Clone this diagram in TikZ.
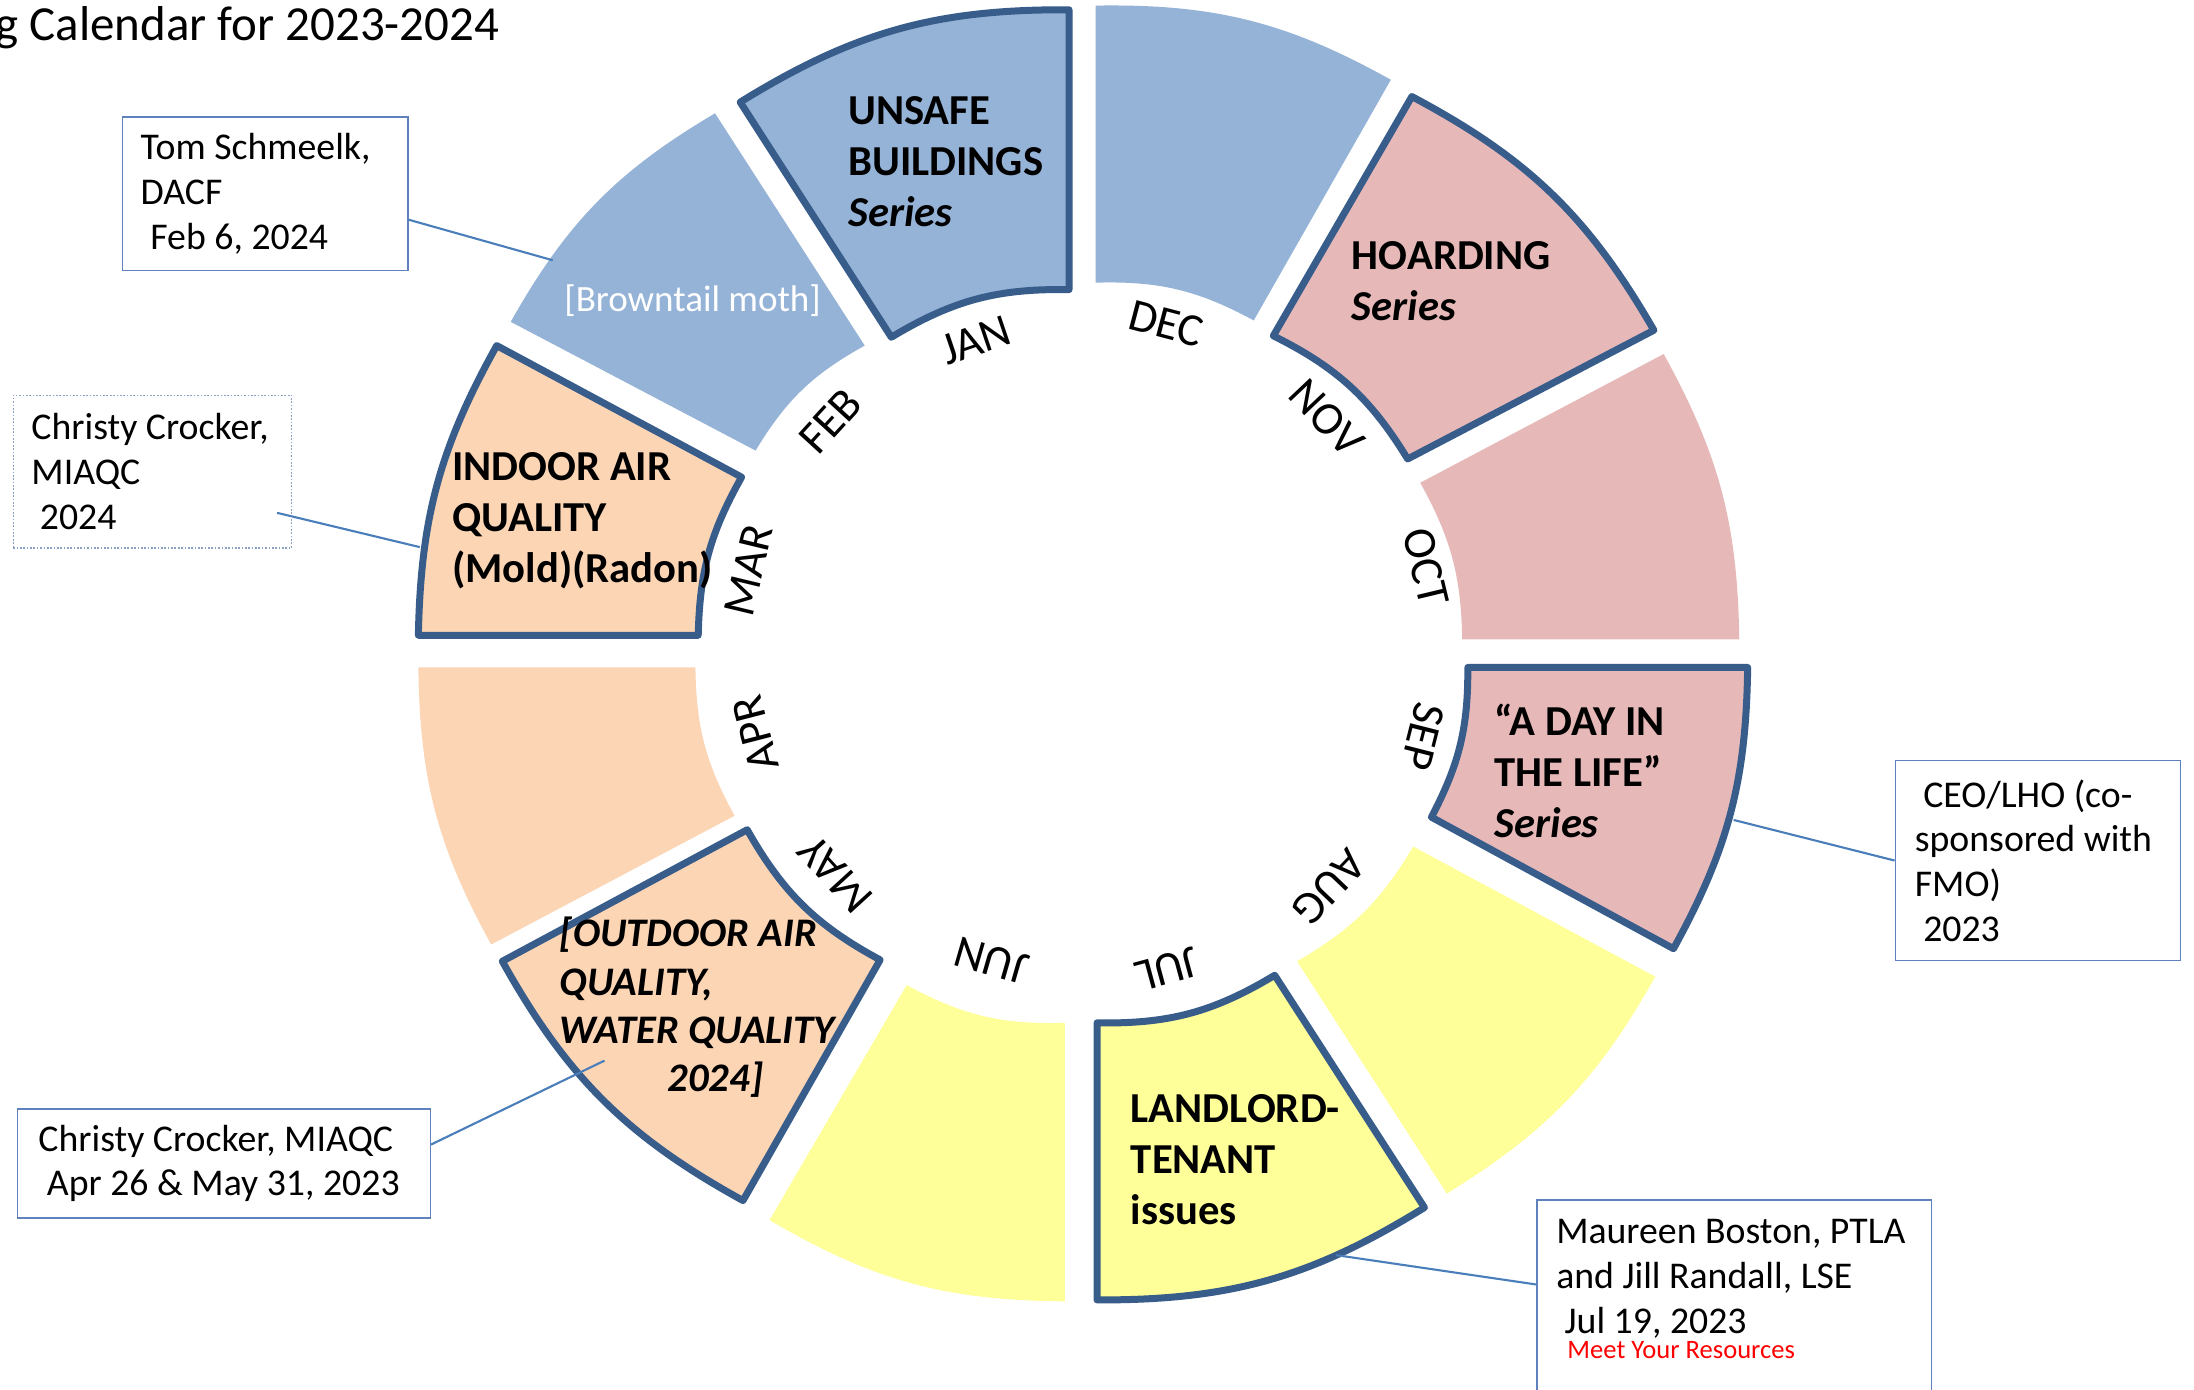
\documentclass[tikz,border=0pt]{standalone}
\usepackage{fontspec}
\setmainfont{Carlito}
\usetikzlibrary{calc}
\definecolor{segblue}{RGB}{149,179,215}
\definecolor{segpink}{RGB}{230,185,184}
\definecolor{segpeach}{RGB}{252,213,181}
\definecolor{segyellow}{RGB}{255,255,153}
\definecolor{segborder}{RGB}{56,93,138}
\definecolor{leadblue}{RGB}{74,126,187}
\definecolor{boxblue}{RGB}{95,130,190}
\definecolor{dotblue}{RGB}{140,160,195}
\tikzset{
  hl/.style={draw=segborder, line width=5pt, line join=round},
  month/.style={font=\fontsize{33}{33}\selectfont, inner sep=0pt},
  segtxt/.style={font=\bfseries\fontsize{30.5}{36.5}\selectfont, align=flush left, anchor=west, inner sep=0pt},
  infobox/.style={draw=boxblue, line width=1pt, align=flush left, font=\fontsize{27}{32}\selectfont, anchor=north west, inner ysep=0pt},
  leader/.style={draw=leadblue, line width=1.5pt},
}
\begin{document}
\begin{tikzpicture}[x=1pt, y=-1pt]
\fill[white] (0,0) rectangle (1568,993);
\useasboundingbox (0,0) rectangle (1568,993);

% ring segments
\filldraw[hl, fill=segblue] (529,73) to[bend left=16] (764,7) -- (764,207) to[bend right=16] (637,241) -- cycle; % JAN
\fill[segblue] (783,4) to[bend left=15] (994,57) -- (896,229) to[bend right=15] (783,202) -- cycle; % DEC
\filldraw[hl, fill=segpink] (1009,69) to[bend left=16] (1182,236) -- (1006,328) to[bend right=16] (910,240) -- cycle; % NOV
\fill[segpink] (1189,253) to[bend left=14] (1243,457) -- (1045,457) to[bend right=14] (1015,345) -- cycle; % OCT
\filldraw[hl, fill=segpink] (1249,477) to[bend left=14] (1196,678) -- (1023,584) to[bend right=14] (1049,477) -- cycle; % SEP
\fill[segyellow] (1183,698) to[bend left=14.5] (1034,853) -- (927,687) to[bend right=14.5] (1010,605) -- cycle; % AUG
\filldraw[hl, fill=segyellow] (1018,863) to[bend left=16] (784,929) -- (784,731) to[bend right=16] (911,697) -- cycle; % JUL
\fill[segyellow] (761,930) to[bend left=15] (550,872) -- (648,704) to[bend right=15] (761,731) -- cycle; % JUN
\filldraw[hl, fill=segpeach] (531,858) to[bend left=16] (359,687) -- (534,593) to[bend right=16] (629,686) -- cycle; % MAY
\fill[segpeach] (351,675) to[bend left=14] (299,477) -- (497,477) to[bend right=14] (525,583) -- cycle; % APR
\filldraw[hl, fill=segpeach] (299,454) to[bend left=14] (355,247) -- (530,341) to[bend right=14] (499,454) -- cycle; % MAR
\fill[segblue] (365,230) to[bend left=15] (511,81) -- (618,247) to[bend right=15] (540,322) -- cycle; % FEB

% segment texts
\node[segtxt] (janTxt) at (606,115.5) {UNSAFE\\BUILDINGS\\\textit{Series}};
\node[segtxt] (novTxt) at (966,201) {HOARDING\\\textit{Series}};
\node[segtxt] (marTxt) at (323,372) {INDOOR AIR\\QUALITY\\(Mold)(Radon)};
\node[segtxt] (sepTxt) at (1068,551) {“A DAY IN\\THE LIFE”\\\textit{Series}};
\node[segtxt] (julTxt) at (808,828.5) {LANDLORD-\\TENANT\\issues};
\node[segtxt, font=\bfseries\itshape\fontsize{29}{34.5}\selectfont] (mayTxt) at (400,720) {[OUTDOOR AIR\\QUALITY,\\WATER QUALITY\\\hspace*{77pt}2024]};
\node[font=\fontsize{26.5}{30}\selectfont, text=white, inner sep=0pt] (febTxt) at (495,215) {[Browntail moth]};

% month labels
\node[month, rotate=18.7] (mJAN) at (697.5,243.5) {JAN};
\node[month, rotate=-14.7] (mDEC) at (833.5,231.5) {DEC};
\node[month, rotate=-46.6] (mNOV) at (948,298.5) {NOV};
\node[month, rotate=-76.5] (mOCT) at (1019,405.5) {OCT};
\node[month, rotate=-104.2] (mSEP) at (1017,526.5) {SEP};
\node[month, rotate=-133.7] (mAUG) at (950,634) {AUG};
\node[month, rotate=-164.9] (mJUL) at (834,692.5) {JUL};
\node[month, rotate=163.9] (mJUN) at (708.5,686.5) {JUN};
\node[month, rotate=132.4] (mMAY) at (597,625) {MAY};
\node[month, rotate=104.5] (mAPR) at (540,524.5) {APR};
\node[month, rotate=76.5] (mMAR) at (535,407.5) {MAR};
\node[month, rotate=47.6] (mFEB) at (593.5,301) {FEB};

% title
\node[anchor=base east, font=\fontsize{35}{40}\selectfont, inner sep=0pt] (title) at (357,29) {g Calendar for 2023-2024};

% info boxes
\node[infobox, inner xsep=13pt, text width=178pt, minimum height=110pt] (tombox) at (87,83) {Tom Schmeelk,\\DACF\\\hspace*{7pt}Feb 6, 2024};
\node[infobox, draw=dotblue, dash pattern=on 1.2pt off 1.2pt, inner xsep=13pt, text width=173pt, minimum height=109pt] (cc1box) at (9,282) {Christy Crocker,\\MIAQC\\\hspace*{6pt}2024};
\node[infobox, inner xsep=14pt, text width=176pt, minimum height=143pt] (ceobox) at (1354,543) {\hspace*{6pt}CEO/LHO (co-\\sponsored with\\FMO)\\\hspace*{6pt}2023};
\node[infobox, inner xsep=15pt, text width=265pt, minimum height=78pt] (cc2box) at (12,792) {Christy Crocker, MIAQC\\\hspace*{6pt}Apr 26 \& May 31, 2023};
\node[draw=boxblue, line width=1pt, minimum width=282pt, minimum height=160pt, anchor=north west, inner sep=0pt] (mbox) at (1098,857) {};
\node[anchor=west, align=flush left, font=\fontsize{27}{32}\selectfont, inner sep=0pt] (mtxt) at (1112,914) {Maureen Boston, PTLA\\and Jill Randall, LSE\\\hspace*{6pt}Jul 19, 2023};
\node[anchor=base west, text=red, font=\fontsize{19}{22}\selectfont, inner sep=0pt] (mres) at (1120,971) {Meet Your Resources};

% connector ends
\coordinate (tomEnd) at (395,186);
\coordinate (cc1End) at (300,391);
\coordinate (ceoEnd) at (1239,586);
\coordinate (cc2End) at (432,758);
\coordinate (mEnd) at (955,897);

% connectors
\draw[leader] (tombox.east |- 0,157) -- (tomEnd);
\draw[leader] ($(cc1box.east)+(-11,29.5)$) -- (cc1End);
\draw[leader] (ceobox.west) -- (ceoEnd);
\draw[leader] (cc2box.east |- 0,818) -- (cc2End);
\draw[leader] (mbox.west |- 0,918) -- (mEnd);
\end{tikzpicture}
\end{document}
